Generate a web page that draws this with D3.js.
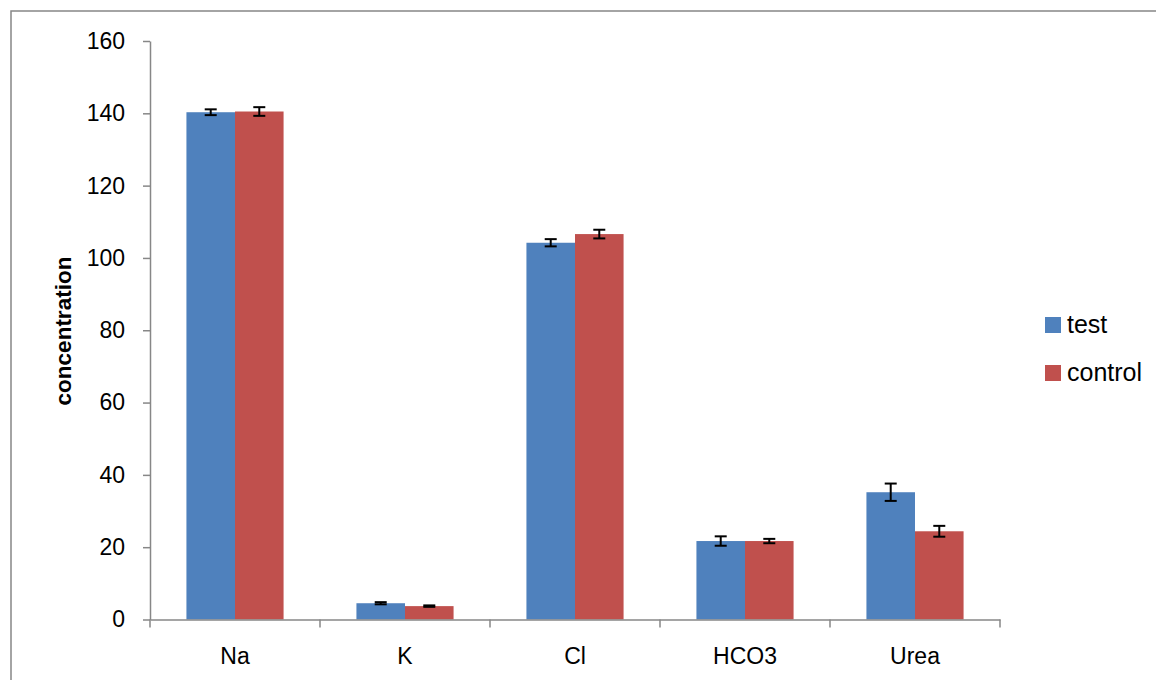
<!DOCTYPE html>
<html><head><meta charset="utf-8">
<script src="https://cdn.jsdelivr.net/npm/d3@7"></script>
<style>body{margin:0;background:#fff}svg{display:block}</style>
</head><body>
<script>
const categories = ["Na","K","Cl","HCO3","Urea"];
const seriesNames = ["test","control"];
const testValues = [140.3, 4.5, 104.2, 21.7, 35.2];
const testErrors = [0.8, 0.3, 1.0, 1.3, 2.4];
const controlValues = [140.5, 3.7, 106.6, 21.7, 24.4];
const controlErrors = [1.2, 0.2, 1.2, 0.6, 1.5];
const yTicks = [0,20,40,60,80,100,120,140,160];
const colors = ["#4F81BD","#C0504D"];

const W = 1156, H = 680;
const svg = d3.select("body").append("svg").attr("width", W).attr("height", H);
const font = "'Liberation Sans', Arial, sans-serif";

svg.append("rect").attr("x", 11).attr("y", 11).attr("width", 1160).attr("height", 700)
  .attr("fill", "none").attr("stroke", "#878787").attr("stroke-width", 1.5);

const x = d3.scaleBand().domain(categories).range([150, 1000]).paddingInner(0).paddingOuter(0);
const xs = d3.scaleBand().domain(seriesNames).range([0, x.bandwidth()]).paddingInner(0).paddingOuter(0.75);
const y = d3.scaleLinear().domain([0, 160]).range([619.5, 41]);

const data = [];
categories.forEach((c, i) => {
  data.push({cat: c, s: "test", v: testValues[i], e: testErrors[i]});
  data.push({cat: c, s: "control", v: controlValues[i], e: controlErrors[i]});
});

svg.selectAll("rect.bar").data(data).enter().append("rect").attr("class", "bar")
  .attr("x", d => x(d.cat) + xs(d.s))
  .attr("width", xs.bandwidth())
  .attr("y", d => y(d.v))
  .attr("height", d => y(0) - y(d.v))
  .attr("fill", d => colors[seriesNames.indexOf(d.s)]);

// error bars
const eg = svg.selectAll("g.err").data(data).enter().append("g").attr("class", "err")
  .attr("stroke", "#000").attr("stroke-width", 2);
const cx = d => x(d.cat) + xs(d.s) + xs.bandwidth() / 2;
eg.append("line").attr("x1", cx).attr("x2", cx).attr("y1", d => y(d.v + d.e)).attr("y2", d => y(d.v - d.e));
eg.append("line").attr("x1", d => cx(d) - 6).attr("x2", d => cx(d) + 6).attr("y1", d => y(d.v + d.e)).attr("y2", d => y(d.v + d.e));
eg.append("line").attr("x1", d => cx(d) - 6).attr("x2", d => cx(d) + 6).attr("y1", d => y(d.v - d.e)).attr("y2", d => y(d.v - d.e));

// y axis
const yAxis = d3.axisLeft(y).tickValues(yTicks).tickSize(7).tickPadding(18).tickSizeOuter(0);
const gy = svg.append("g").attr("transform", "translate(150,0)").call(yAxis);
gy.select(".domain").attr("stroke", "#878787").attr("stroke-width", 1.5);
gy.selectAll(".tick line").attr("stroke", "#878787").attr("stroke-width", 1.5);
gy.selectAll(".tick text").attr("font-family", font).attr("font-size", 23).attr("fill", "#000");

// x axis
const xAxis = d3.axisBottom(x).tickSize(0).tickPadding(28);
const gx = svg.append("g").attr("transform", `translate(0,${y(0)})`).call(xAxis);
gx.select(".domain").attr("stroke", "#878787").attr("stroke-width", 1.5);
gx.selectAll(".tick text").attr("font-family", font).attr("font-size", 23).attr("fill", "#000");
const bounds = categories.map(c => x(c)).concat([x(categories[categories.length - 1]) + x.bandwidth()]);
gx.selectAll("line.bound").data(bounds).enter().append("line").attr("class", "bound")
  .attr("x1", d => d).attr("x2", d => d).attr("y1", 0).attr("y2", 8)
  .attr("stroke", "#878787").attr("stroke-width", 1.5);

// y title
svg.append("text").attr("transform", "translate(71,331) rotate(-90)")
  .attr("text-anchor", "middle").attr("font-family", font).attr("font-size", 22.5)
  .attr("font-weight", "bold").attr("fill", "#000").text("concentration");

// legend
const lg = svg.append("g");
seriesNames.forEach((s, i) => {
  lg.append("rect").attr("x", 1045).attr("y", 317 + i * 48).attr("width", 16).attr("height", 16).attr("fill", colors[i]);
  lg.append("text").attr("x", 1067).attr("y", 333 + i * 48).attr("font-family", font).attr("font-size", 25)
    .attr("fill", "#000").text(s);
});
</script>
</body></html>
